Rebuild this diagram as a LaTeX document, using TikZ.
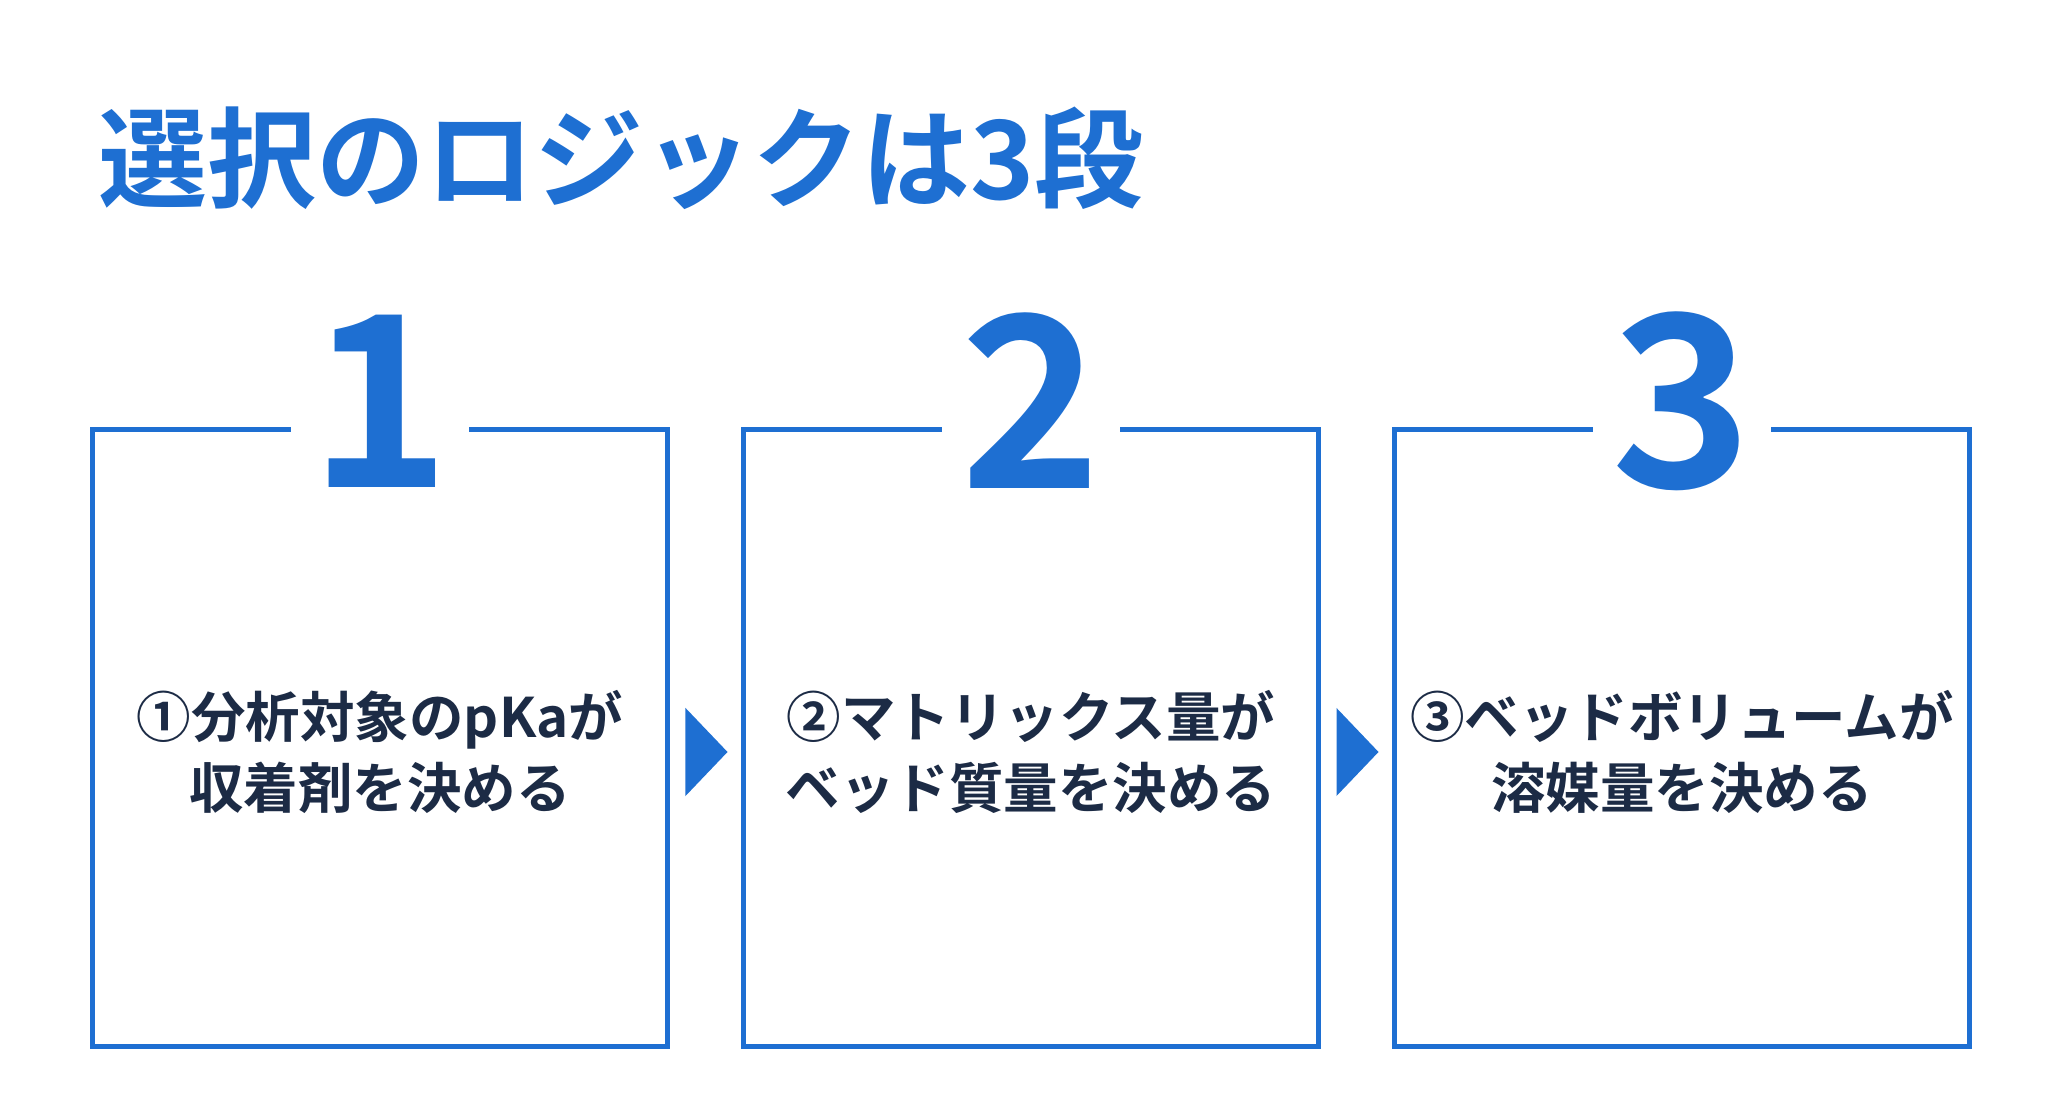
\documentclass[tikz,border=0pt]{standalone}
\usepackage{fontspec}
\setmainfont{Noto Sans CJK JP}[BoldFont={* Bold}]
\usetikzlibrary{positioning, calc}
\definecolor{stepblue}{HTML}{1E6FD2}
\definecolor{stepnavy}{HTML}{1C2B45}
\tikzset{
x=0.01cm, y=0.01cm, % one unit is one pixel of the reference
stepbox/.style={draw=stepblue, line width=1.5pt, minimum width=5.75cm, minimum height=6.16cm, inner sep=0pt}, % frame of each step
stepnum/.style={fill=white, text=stepblue, font=\fontsize{68}{68}\selectfont\bfseries, minimum width=1.77cm, inner sep=0pt}, % big step number
steptext/.style={text=stepnavy, font=\fontsize{15.5}{20}\selectfont\bfseries, align=center}, % text of each step
steparrow/.style={fill=stepblue, draw=none}, % triangle between steps
}
\begin{document}
\begin{tikzpicture}
            \useasboundingbox (0,0) rectangle (2064,1101);
            \node[anchor=west, text=stepblue, font=\fontsize{31}{31}\selectfont\bfseries] (title) at (86,943) {選択のロジックは3段};

            \node[stepbox] (b1) at (380,363) {};
            \node[stepbox] (b2) at (1031,363) {};
            \node[stepbox] (b3) at (1682,363) {};
            \node[stepnum] (n1) at (b1.north |- 0,700) {1};
            \node[stepnum] (n2) at (b2.north |- 0,700) {2};
            \node[stepnum] (n3) at (b3.north |- 0,700) {3};
            \node[steptext] (t1) at (380,349) {①分析対象のpKaが\\収着剤を決める};
            \node[steptext] (t2) at (1031,349) {②マトリックス量が\\ベッド質量を決める};
            \node[steptext] (t3) at (1682,349) {③ベッドボリュームが\\溶媒量を決める};

            \coordinate (a1) at ($(b1.east)!0.5!(b2.west)$);
            \coordinate (a2) at ($(b2.east)!0.5!(b3.west)$);
            \fill[steparrow] ([xshift=-0.2cm,yshift=0.44cm]a1 |- t1) -- ([xshift=0.22cm]a1 |- t1) -- ([xshift=-0.2cm,yshift=-0.44cm]a1 |- t1) -- cycle;
            \fill[steparrow] ([xshift=-0.2cm,yshift=0.44cm]a2 |- t2) -- ([xshift=0.22cm]a2 |- t2) -- ([xshift=-0.2cm,yshift=-0.44cm]a2 |- t2) -- cycle;
        \end{tikzpicture}
\end{document}
